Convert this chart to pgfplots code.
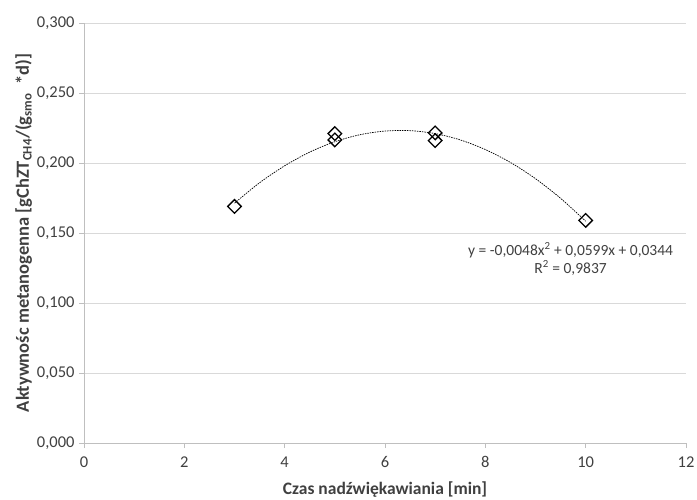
\documentclass[border=0pt]{standalone}
\usepackage{fontspec}
\setmainfont{Carlito}
\usepackage{pgfplots}
\pgfplotsset{compat=1.18}
\definecolor{gridc}{HTML}{D9D9D9}
\definecolor{axisc}{HTML}{BFBFBF}
\definecolor{textc}{HTML}{404040}
\begin{document}
\begin{tikzpicture}
\path[use as bounding box] (-84bp,-57bp) rectangle (613bp,443bp);
\begin{axis}[
  at={(0,0)}, anchor=south west,
  scale only axis, width=602bp, height=420bp,
  xmin=0, xmax=12, ymin=0, ymax=0.3,
  xtick={0,2,4,6,8,10,12},
  ytick={0,0.05,0.1,0.15,0.2,0.25,0.3},
  axis x line=bottom, axis y line=left,
  axis line style={draw=axisc, line width=0.8pt, -},
  tick style={draw=axisc, line width=0.8pt},
  tick align=outside, major tick length=5bp,
  ymajorgrids, grid style={draw=gridc, line width=0.8pt},
  /pgf/number format/assume math mode=true,
  yticklabel style={xshift=-1bp, /pgf/number format/.cd, fixed, fixed zerofill, precision=3, use comma},
  xticklabel style={yshift=-5bp, /pgf/number format/.cd, fixed, precision=0},
  tick label style={font=\fontsize{16.5bp}{19bp}\selectfont, text=textc},
  xlabel={Czas nadźwiękawiania [min]},
  ylabel={Aktywnośc metanogenna [gChZT\textsubscript{CH4}/(g\textsubscript{smo}\hspace{0.45em}*d)]},
  label style={font=\fontsize{17.5bp}{20bp}\selectfont\bfseries, text=textc},
  ylabel style={font=\fontsize{18.5bp}{20bp}\selectfont\bfseries, yshift=-2bp},
  xlabel style={yshift=-7bp},
  clip=false,
]
\addplot[black, line width=0.7pt, dash pattern=on 1.5pt off 1pt, smooth] coordinates {
  (3,0.1713) (3.5,0.1859) (4,0.1980) (4.5,0.2078) (5,0.2152) (5.5,0.2202)
  (6,0.2228) (6.5,0.2231) (7,0.2210) (7.5,0.2165) (8,0.2096) (8.5,0.2004)
  (9,0.1888) (9.5,0.1748) (10,0.1584)
};
\addplot[only marks, mark=square, mark size=4.8bp, mark options={rotate=45, draw=black, fill=white, line width=1.3pt}] coordinates {
  (3,0.169) (5,0.2210) (5,0.2165) (7,0.2215) (7,0.2160) (10,0.159)
};
\node[align=center, font=\fontsize{15.5bp}{18bp}\selectfont, text=textc] at (axis cs:9.7,0.1315)
  {y = -0,0048x\textsuperscript{2} + 0,0599x + 0,0344\\R\textsuperscript{2} = 0,9837};
\end{axis}
\end{tikzpicture}
\end{document}
